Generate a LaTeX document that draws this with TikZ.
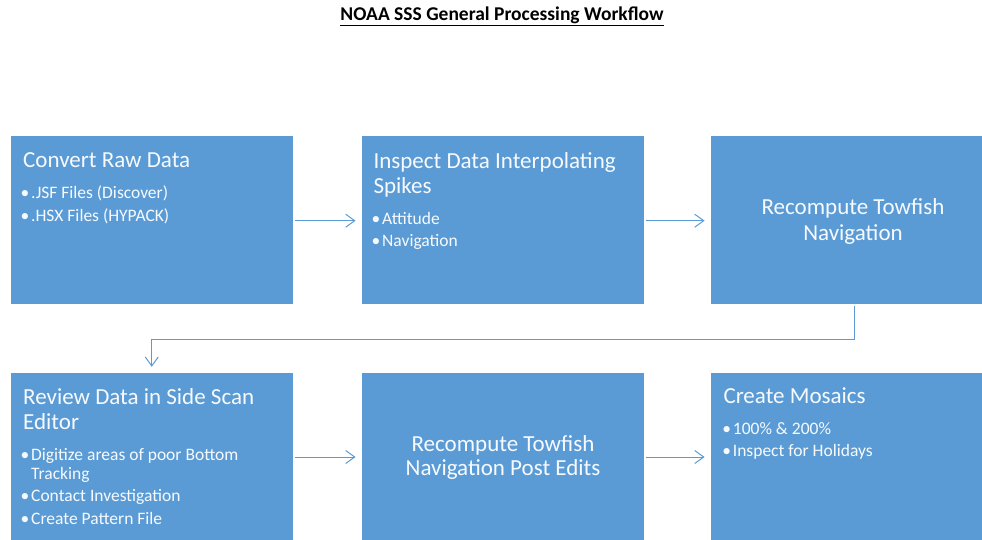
\documentclass[tikz,border=0pt]{standalone}
\usepackage{fontspec}
\setmainfont{Carlito}
\usetikzlibrary{arrows.meta}
\definecolor{boxblue}{HTML}{5B9BD5}
\definecolor{arrblue}{HTML}{5B9BD5}
\definecolor{txtwhite}{HTML}{F7FAFD}
\begin{document}
\begin{tikzpicture}[x=1pt,y=-1pt,
  box/.style={rectangle, fill=boxblue, draw=none, minimum width=282.5pt, minimum height=168pt, inner sep=0pt},
  hd/.style={anchor=base west, inner sep=0pt, text=txtwhite, font=\fontsize{23}{27}\selectfont},
  hdc/.style={anchor=base, inner sep=0pt, text=txtwhite, font=\fontsize{23}{27}\selectfont},
  bl/.style={anchor=base west, inner sep=0pt, text=txtwhite, font=\fontsize{17.5}{21}\selectfont},
  arr/.style={draw=arrblue, line width=1pt, -{Straight Barb[length=9pt,width=13pt,line width=1pt]}, shorten <=2pt, shorten >=6pt},
  ttl/.style={anchor=base, inner sep=0pt, font=\bfseries\fontsize{19.5}{23}\selectfont}]
\useasboundingbox (0,0) rectangle (982,539);
\clip (0,0) rectangle (982,539);
\fill[white] (0,0) rectangle (982,539);
% title
\node[ttl] (title) at (502,20) {\underline{NOAA SSS General Processing Workflow}};
% boxes
\node[box] (b1) at (151.75,220) {};
\node[box] (b2) at (503,220) {};
\node[box] (b3) at (852,220) {};
\node[box] (b4) at (151.75,457) {};
\node[box] (b5) at (503,457) {};
\node[box] (b6) at (852,457) {};
\newcommand{\bul}{\llap{\textbullet\kern1.8pt}}
% box 1
\node[hd] (t1a) at (23,167) {Convert Raw Data};
\node[bl] (t1b) at (31,198) {\bul.JSF Files (Discover)};
\node[bl] (t1c) at (31,221) {\bul.HSX Files (HYPACK)};
% box 2
\node[hd] (t2a) at (373.3,168) {Inspect Data Interpolating};
\node[hd] (t2b) at (373.3,193) {Spikes};
\node[bl] (t2c) at (382,224) {\bul Attitude};
\node[bl] (t2d) at (382,246) {\bul Navigation};
% box 3
\node[hdc] (t3a) at (853,214) {Recompute Towfish};
\node[hdc] (t3b) at (853,240) {Navigation};
% box 4
\node[hd] (t4a) at (23,404) {Review Data in Side Scan};
\node[hd] (t4b) at (23,429) {Editor};
\node[bl] (t4c) at (31,460) {\bul Digitize areas of poor Bottom};
\node[bl] (t4d) at (31,479) {Tracking};
\node[bl] (t4e) at (31,501.5) {\bul Contact Investigation};
\node[bl] (t4f) at (31,524) {\bul Create Pattern File};
% box 5
\node[hdc] (t5a) at (503,451.7) {Recompute Towfish};
\node[hdc] (t5b) at (503,475.7) {Navigation Post Edits};
% box 6
\node[hd] (t6a) at (723.3,403) {Create Mosaics};
\node[bl] (t6b) at (732.7,434) {\bul 100\% \& 200\%};
\node[bl] (t6c) at (732.7,456) {\bul Inspect for Holidays};
% connectors
\draw[arr] (b1.east |- 0,220.7) -- (b2.west |- 0,220.7);
\draw[arr] (b2.east |- 0,220.7) -- (b3.west |- 0,220.7);
\coordinate (turn) at (854,339);
\draw[arr] (b3.south -| turn) -- (turn) -| (b4.north);
\draw[arr] (b4.east |- 0,457) -- (b5.west |- 0,457);
\draw[arr] (b5.east |- 0,457) -- (b6.west |- 0,457);
\end{tikzpicture}
\end{document}
